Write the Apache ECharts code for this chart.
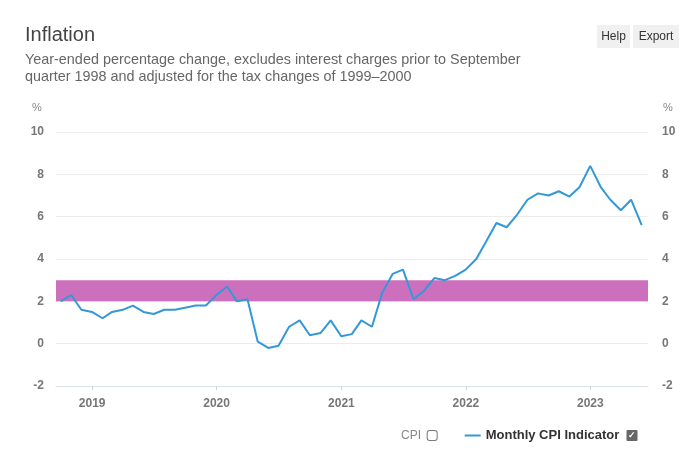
<!DOCTYPE html>
<html>
<head>
<meta charset="utf-8">
<script src="https://cdn.jsdelivr.net/npm/echarts@6/dist/echarts.min.js"></script>
<style>
html,body{margin:0;padding:0;background:#fff;}
#chart{width:697px;height:459px;}
</style>
</head>
<body>
<div id="chart"></div>
<script>
// ---- data ----
var months = [
  '2018-09','2018-10','2018-11','2018-12',
  '2019-01','2019-02','2019-03','2019-04','2019-05','2019-06','2019-07','2019-08','2019-09','2019-10','2019-11','2019-12',
  '2020-01','2020-02','2020-03','2020-04','2020-05','2020-06','2020-07','2020-08','2020-09','2020-10','2020-11','2020-12',
  '2021-01','2021-02','2021-03','2021-04','2021-05','2021-06','2021-07','2021-08','2021-09','2021-10','2021-11','2021-12',
  '2022-01','2022-02','2022-03','2022-04','2022-05','2022-06','2022-07','2022-08','2022-09','2022-10','2022-11','2022-12',
  '2023-01','2023-02','2023-03','2023-04','2023-05'
];
var monthlyCPI = [
  2.0, 2.3, 1.6, 1.5,
  1.2, 1.5, 1.6, 1.8, 1.5, 1.4, 1.6, 1.6, 1.7, 1.8, 1.8, 2.3,
  2.7, 2.0, 2.1, 0.1, -0.2, -0.1, 0.8, 1.1, 0.4, 0.5, 1.1, 0.35,
  0.45, 1.1, 0.8, 2.4, 3.3, 3.5, 2.1, 2.5, 3.1, 3.0, 3.2, 3.5,
  4.0, 4.8, 5.7, 5.5, 6.1, 6.8, 7.1, 7.0, 7.2, 6.95, 7.4, 8.4,
  7.4, 6.8, 6.3, 6.8, 5.6
];
var targetBand = [2, 3];
var yTicks = [-2, 0, 2, 4, 6, 8, 10];
var xRange = ['2018-09-17', '2023-06-19'];
var seriesNames = ['CPI', 'Monthly CPI Indicator'];
var titleText = 'Inflation';
var subtitleText = 'Year-ended percentage change, excludes interest charges prior to September\nquarter 1998 and adjusted for the tax changes of 1999\u20132000';

// month-end timestamps
function monthEnd(s) {
  var p = s.split('-');
  var y = +p[0], m = +p[1];
  return new Date(y, m, 0, 12).getTime();
}
var lineData = months.map(function (m, i) { return [monthEnd(m), monthlyCPI[i]]; });

var FONT = 'Liberation Sans, Arial, sans-serif';
var chart = echarts.init(document.getElementById('chart'), null, {renderer: 'canvas'});

var labelStyle = {color: '#777', fontSize: 12, fontWeight: 'bold', fontFamily: FONT};

var yAxisCommon = {
  type: 'value',
  min: yTicks[0],
  max: yTicks[yTicks.length - 1],
  interval: 2,
  axisLine: {show: false},
  axisTick: {show: false},
  splitLine: {show: true, lineStyle: {color: '#ececec', width: 1}},
  axisLabel: Object.assign({margin: 12}, labelStyle)
};

var option = {
  animation: false,
  backgroundColor: '#fff',
  textStyle: {fontFamily: FONT},
  grid: {left: 56, right: 49, top: 132, bottom: 73, containLabel: false},
  xAxis: {
    type: 'time',
    min: new Date(xRange[0] + 'T00:00:00').getTime(),
    max: new Date(xRange[1] + 'T00:00:00').getTime(),
    minInterval: 365 * 24 * 3600 * 1000,
    maxInterval: 366 * 24 * 3600 * 1000,
    axisLine: {show: true, onZero: false, lineStyle: {color: '#dde1e8', width: 1}},
    axisTick: {show: true, length: 4, lineStyle: {color: '#cfd4dc'}},
    splitLine: {show: false},
    minorTick: {show: false},
    axisLabel: Object.assign({
      margin: 12, formatter: '{yyyy}', showMinLabel: false, showMaxLabel: false, hideOverlap: true
    }, labelStyle)
  },
  yAxis: [
    Object.assign({}, yAxisCommon, {position: 'left'}),
    Object.assign({}, yAxisCommon, {position: 'right', splitLine: {show: false},
      axisLabel: Object.assign({margin: 14}, labelStyle)})
  ],
  legend: {
    left: 375,
    top: 424,
    selectedMode: false,
    itemGap: 27,
    itemWidth: 16,
    itemHeight: 2,
    data: [
      {name: seriesNames[0], icon: 'none', textStyle: {color: '#888', fontWeight: 'normal', fontSize: 12}},
      {name: seriesNames[1], icon: 'rect', textStyle: {color: '#333', fontWeight: 'bold', fontSize: 13}}
    ],
    formatter: function (name) {
      return name === seriesNames[0] ? name + '  {u| }' : name + '  {c|\u2713}';
    },
    textStyle: {
      fontSize: 13, fontFamily: FONT,
      rich: {
        u: {width: 9, height: 9, borderColor: '#777', borderWidth: 1, borderRadius: 2, backgroundColor: '#fff'},
        c: {width: 11, height: 11, lineHeight: 11, backgroundColor: '#666', color: '#fff', fontSize: 9, fontWeight: 'bold', align: 'center', borderRadius: 1}
      }
    }
  },
  series: [
    {
      name: seriesNames[0], type: 'line', data: [], showSymbol: false,
      itemStyle: {color: '#999'}
    },
    {
      name: seriesNames[1], type: 'line', data: lineData,
      showSymbol: false, symbol: 'none', z: 5,
      lineStyle: {color: '#3399d6', width: 2},
      itemStyle: {color: '#3399d6'},
      markArea: {
        silent: true,
        itemStyle: {color: '#cc70be', opacity: 1},
        data: [[{yAxis: targetBand[0]}, {yAxis: targetBand[1]}]]
      }
    }
  ],
  graphic: [
    {type: 'text', left: 25, top: 25, style: {text: titleText, fontSize: 20, fill: '#444', fontFamily: FONT}},
    {type: 'text', left: 25, top: 52, style: {text: subtitleText, fontSize: 14.4, lineHeight: 17, fill: '#666', fontFamily: FONT}},
    {type: 'text', left: 32, top: 102, style: {text: '%', fontSize: 11, fill: '#888', fontFamily: FONT}},
    {type: 'text', left: 663, top: 102, style: {text: '%', fontSize: 11, fill: '#888', fontFamily: FONT}},
    {type: 'group', left: 597, top: 25, children: [
      {type: 'rect', shape: {x: 0, y: 0, width: 33, height: 23}, style: {fill: '#f0f0f0'}},
      {type: 'text', x: 16.5, y: 11.5, style: {text: 'Help', fontSize: 12, fill: '#333', fontFamily: FONT, align: 'center', verticalAlign: 'middle'}},
      {type: 'rect', shape: {x: 36, y: 0, width: 46, height: 23}, style: {fill: '#f0f0f0'}},
      {type: 'text', x: 59, y: 11.5, style: {text: 'Export', fontSize: 12, fill: '#333', fontFamily: FONT, align: 'center', verticalAlign: 'middle'}}
    ]}
  ]
};
chart.setOption(option);
</script>
</body>
</html>
